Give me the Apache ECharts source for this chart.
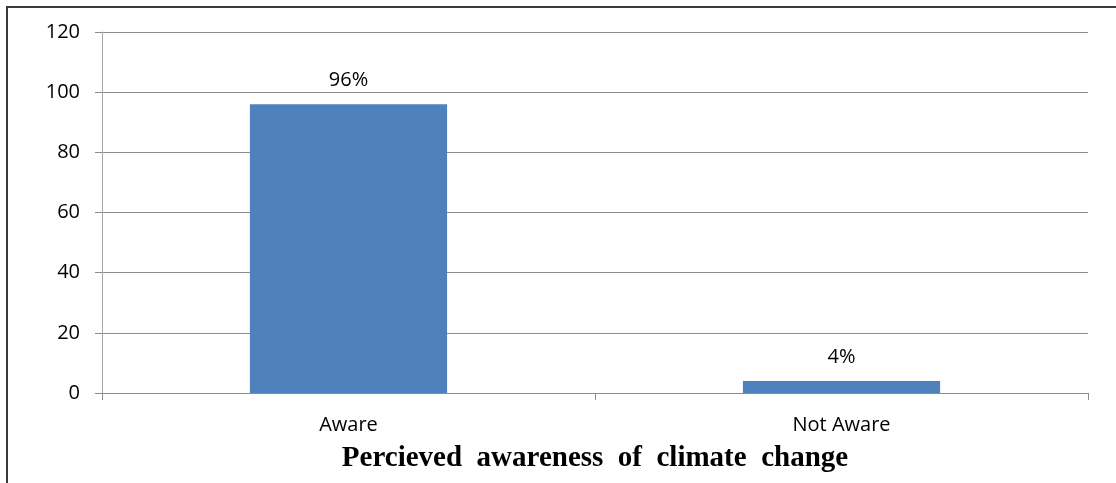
<!DOCTYPE html>
<html>
<head>
<meta charset="utf-8">
<script src="https://cdn.jsdelivr.net/npm/echarts@6/dist/echarts.min.js"></script>
<style>
  html, body { margin: 0; padding: 0; background: #fff; }
  #frame { position: absolute; left: 6px; top: 6px; width: 1120px; height: 490px; border-left: 2px solid #3a3a3a; border-top: 2px solid #3a3a3a; }
  #chart { position: absolute; left: 0; top: 0; width: 1116px; height: 483px; }
</style>
</head>
<body>
<div id="frame"></div>
<div id="chart"></div>
<script>
// awareness survey, percent of respondents
const categories = ['Aware', 'Not Aware']
const percents = [96, 4]
const yTicks = { min: 0, max: 120, interval: 20 }

const labelFont = '"Open Sans", "DejaVu Sans", sans-serif'
const axisGray = '#8c8c8c'

const chart = echarts.init(document.getElementById('chart'))
chart.setOption({
  animation: false,
  grid: { left: 102, right: 28, top: 32, bottom: 90, outerBoundsMode: 'none', containLabel: false },
  xAxis: {
    type: 'category',
    data: categories,
    name: 'Percieved  awareness  of  climate  change',
    nameLocation: 'middle',
    nameGap: 51,
    nameTextStyle: { fontFamily: '"Liberation Serif", serif', fontWeight: 'bold', fontSize: 29, color: '#000' },
    axisLine: { lineStyle: { color: axisGray, width: 1 } },
    axisTick: { show: true, length: 7, lineStyle: { color: axisGray } },
    axisLabel: { fontFamily: labelFont, fontSize: 20, color: '#000', margin: 22 }
  },
  yAxis: {
    type: 'value',
    min: yTicks.min,
    max: yTicks.max,
    interval: yTicks.interval,
    axisLine: { show: true, lineStyle: { color: '#a6a6a6' } },
    axisTick: { show: true, length: 7, lineStyle: { color: axisGray } },
    axisLabel: { fontFamily: labelFont, fontSize: 20, color: '#000', margin: 22 },
    splitLine: { lineStyle: { color: axisGray, width: 1 } }
  },
  series: [{
    type: 'bar',
    data: percents,
    barWidth: '40%',
    itemStyle: { color: '#4f81bd' },
    label: { show: true, position: 'top', distance: 14, formatter: '{c}%', fontFamily: labelFont, fontSize: 20, color: '#000' }
  }]
})
</script>
</body>
</html>
